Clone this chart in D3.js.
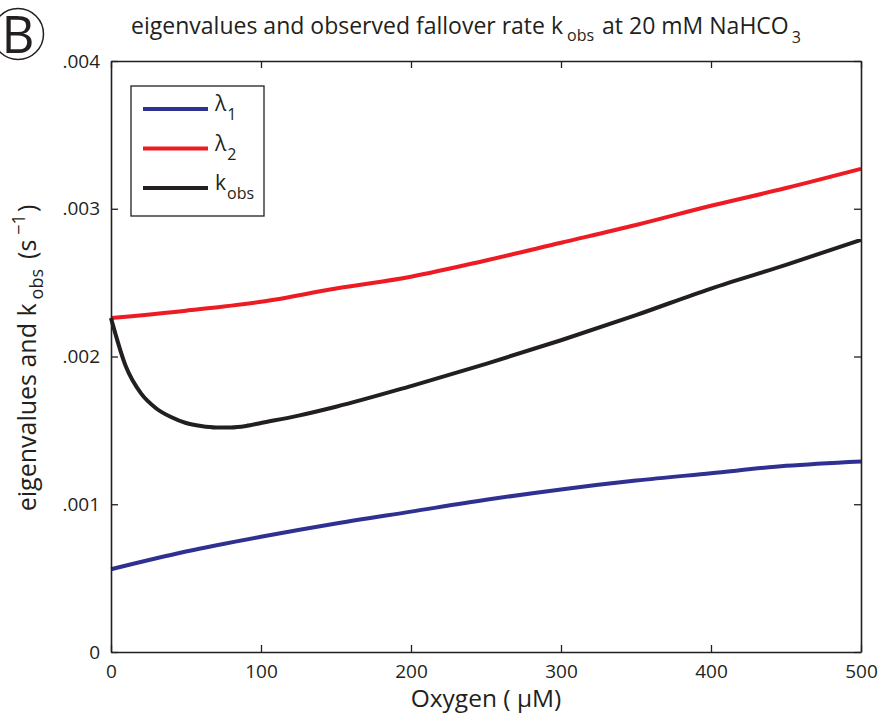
<!DOCTYPE html>
<html>
<head>
<meta charset="utf-8">
<script src="https://cdn.jsdelivr.net/npm/d3@7"></script>
<style>
  body { margin: 0; background: #fff; }
  text { font-family: "Open Sans", Lato, sans-serif; fill: #231f20; }
</style>
</head>
<body>
<div id="chart"></div>
<script>
// oxygen (uM) and rates (s^-1)
var oxygenBlue = [0, 50, 100, 150, 200, 250, 300, 350, 400, 450, 500];
var lambda1 = [0.00056, 0.00068, 0.00078, 0.00087, 0.00095, 0.00103, 0.00110, 0.00116, 0.00121, 0.00126, 0.00129];

var oxygenRed = [0, 50, 100, 150, 200, 250, 300, 350, 400, 450, 500];
var lambda2 = [0.00226, 0.00231, 0.00237, 0.00246, 0.00254, 0.00265, 0.00277, 0.00289, 0.00302, 0.00314, 0.00327];

var oxygenBlack = [0, 10, 20, 30, 40, 50, 60, 70, 80, 90, 100, 125, 150, 200, 250, 300, 350, 400, 450, 500];
var kobs = [0.00226, 0.00193, 0.00175, 0.00165, 0.00159, 0.00155, 0.00153, 0.00152, 0.00152, 0.00153,
            0.00155, 0.00160, 0.00166, 0.00180, 0.00195, 0.00211, 0.00228, 0.00246, 0.00262, 0.00279];

var xTicks = [0, 100, 200, 300, 400, 500];
var yTicks = [0, 0.001, 0.002, 0.003, 0.004];
var yTickLabels = ["0", ".001", ".002", ".003", ".004"];

var W = 878, H = 720;
var plotLeft = 111, plotRight = 861, plotTop = 61, plotBottom = 652;

var svg = d3.select("#chart").append("svg")
            .attr("width", W)
            .attr("height", H);

var x = d3.scaleLinear().domain([0, 500]).range([plotLeft, plotRight]);
var y = d3.scaleLinear().domain([0, 0.004]).range([plotBottom, plotTop]);

var ink = "#231f20";

// curves
var line = d3.line()
             .curve(d3.curveMonotoneX)
             .x(function(d) { return x(d[0]); })
             .y(function(d) { return y(d[1]); });

var series = [
  { xs: oxygenBlue, ys: lambda1, color: "#2e3192" },
  { xs: oxygenRed, ys: lambda2, color: "#ed1c24" },
  { xs: oxygenBlack, ys: kobs, color: ink }
];

svg.append("g")
   .selectAll("path")
   .data(series)
   .enter()
   .append("path")
   .attr("d", function(s) { return line(s.xs.map(function(v, i) { return [v, s.ys[i]]; })); })
   .attr("fill", "none")
   .attr("stroke", function(s) { return s.color; })
   .attr("stroke-width", 4)
   .attr("stroke-linejoin", "round");

// axes, ticks pointing inward on all four sides
var tl = 7;
svg.append("g").attr("transform", "translate(0," + plotBottom + ")")
   .call(d3.axisBottom(x).tickValues(xTicks).tickSizeInner(-tl).tickSizeOuter(0).tickPadding(13).tickFormat(d3.format("d")));
svg.append("g").attr("transform", "translate(0," + plotTop + ")")
   .call(d3.axisTop(x).tickValues(xTicks).tickSizeInner(-tl).tickSizeOuter(0).tickFormat(""));
svg.append("g").attr("transform", "translate(" + plotLeft + ",0)")
   .call(d3.axisLeft(y).tickValues(yTicks).tickSizeInner(-tl).tickSizeOuter(0).tickPadding(11)
           .tickFormat(function(d, i) { return yTickLabels[i]; }));
svg.append("g").attr("transform", "translate(" + plotRight + ",0)")
   .call(d3.axisRight(y).tickValues(yTicks).tickSizeInner(-tl).tickSizeOuter(0).tickFormat(""));

svg.selectAll(".domain").attr("stroke", ink).attr("stroke-width", 1.6);
svg.selectAll(".tick line").attr("stroke", ink).attr("stroke-width", 1.3);
svg.selectAll(".tick text")
   .style("font-size", "19px")
   .style("font-family", "'Open Sans', Lato, sans-serif")
   .attr("fill", ink);

// legend
var lg = svg.append("g");
lg.append("rect")
  .attr("x", 131).attr("y", 86).attr("width", 133).attr("height", 130)
  .attr("fill", "#fff").attr("stroke", ink).attr("stroke-width", 1.3);

var legendItems = [
  { name: "λ", sub: "1", color: "#2e3192" },
  { name: "λ", sub: "2", color: "#ed1c24" },
  { name: "k", sub: "obs", color: ink }
];
legendItems.forEach(function(d, i) {
  var ly = 109 + i * 39.5;
  lg.append("line").attr("x1", 143).attr("x2", 208).attr("y1", ly).attr("y2", ly)
    .attr("stroke", d.color).attr("stroke-width", 4);
  var t = lg.append("text").attr("x", 215).attr("y", ly + 2).style("font-size", "21px");
  t.append("tspan").text(d.name);
  t.append("tspan").attr("dx", 1).attr("dy", 9).style("font-size", "16px").text(d.sub);
});

// title
var title = svg.append("text").attr("x", 466).attr("y", 34)
               .attr("text-anchor", "middle").style("font-size", "23px");
title.append("tspan").text("eigenvalues and observed fallover rate  k");
title.append("tspan").attr("dx", 4).attr("dy", 7).style("font-size", "16px").text("obs");
title.append("tspan").attr("dx", 8).attr("dy", -7).text("at 20 mM NaHCO");
title.append("tspan").attr("dx", 3).attr("dy", 9).style("font-size", "16px").text("3");

// panel letter
svg.append("circle").attr("cx", 18).attr("cy", 34).attr("r", 25.5)
   .attr("fill", "none").attr("stroke", ink).attr("stroke-width", 1.5);
svg.append("text").attr("x", 18).attr("y", 53).attr("text-anchor", "middle")
   .style("font-size", "51px").text("B");

// axis titles
svg.append("text").attr("x", 486).attr("y", 707).attr("text-anchor", "middle")
   .style("font-size", "24.5px").text("Oxygen ( μM)");

var yl = svg.append("text")
            .attr("transform", "translate(36,358) rotate(-90)")
            .attr("text-anchor", "middle")
            .style("font-size", "25px");
yl.append("tspan").text("eigenvalues and k");
yl.append("tspan").attr("dx", 4).attr("dy", 7).style("font-size", "18px").text("obs");
yl.append("tspan").attr("dx", 10).attr("dy", -7).text("(s");
yl.append("tspan").attr("dx", 5).attr("dy", -11).style("font-size", "18px").text("−1");
yl.append("tspan").attr("dx", 2).attr("dy", 11).text(")");
</script>
</body>
</html>
